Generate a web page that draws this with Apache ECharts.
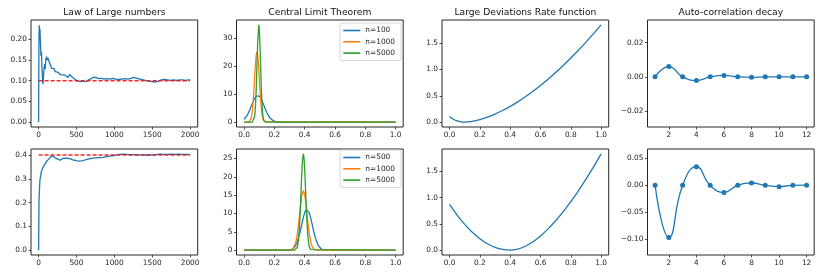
<!DOCTYPE html>
<html><head><meta charset="utf-8">
<script src="https://cdn.jsdelivr.net/npm/echarts@6/dist/echarts.min.js"></script>
<style>html,body{margin:0;padding:0;background:#fff}#c{width:830px;height:277px}</style>
</head><body><div id="c"></div>
<script>
// ---------------- DATA ----------------
const titles = ['Law of Large numbers', 'Central Limit Theorem', 'Large Deviations Rate function', 'Auto-correlation decay'];

// Law of large numbers: running mean [n, value]
const llnP1 = 0.1, llnP2 = 0.4, llnN = 2000;
const lln1 = [[0,0],[5,0.2],[9,0.234],[13,0.22],[18,0.225],[25,0.19],[32,0.16],[38,0.17],[45,0.13],[52,0.1],[58,0.092],[65,0.11],[72,0.13],[80,0.14],[88,0.128],[95,0.15],[105,0.158],[115,0.15],[125,0.155],[140,0.145],[155,0.14],[170,0.13],[185,0.128],[200,0.13],[220,0.122],[240,0.118],[260,0.12],[285,0.115],[310,0.118],[340,0.114],[365,0.112],[390,0.108],[410,0.115],[430,0.112],[455,0.107],[480,0.104],[505,0.1],[530,0.102],[560,0.098],[590,0.099],[620,0.098],[650,0.101],[680,0.104],[710,0.107],[740,0.109],[770,0.107],[800,0.105],[830,0.106],[860,0.104],[900,0.105],[940,0.104],[980,0.106],[1020,0.104],[1060,0.103],[1100,0.104],[1140,0.105],[1180,0.104],[1220,0.106],[1260,0.108],[1300,0.106],[1340,0.104],[1380,0.102],[1420,0.1],[1460,0.099],[1500,0.098],[1540,0.097],[1580,0.099],[1620,0.102],[1660,0.103],[1700,0.102],[1740,0.101],[1780,0.102],[1820,0.101],[1860,0.102],[1900,0.102],[1940,0.101],[1980,0.102],[2000,0.102]];
const lln2 = [[0,0],[3,0.1],[5,0.2],[10,0.24],[15,0.28],[20,0.3],[28,0.31],[35,0.33],[45,0.335],[55,0.345],[65,0.35],[80,0.36],[95,0.365],[110,0.375],[125,0.38],[140,0.385],[155,0.39],[170,0.396],[185,0.392],[200,0.393],[220,0.388],[240,0.385],[260,0.38],[280,0.378],[300,0.382],[320,0.386],[345,0.384],[370,0.387],[395,0.386],[420,0.384],[450,0.38],[480,0.378],[510,0.375],[540,0.374],[570,0.375],[600,0.378],[640,0.382],[680,0.385],[720,0.387],[760,0.388],[800,0.389],[850,0.39],[900,0.393],[950,0.396],[1000,0.398],[1040,0.402],[1080,0.403],[1120,0.404],[1160,0.403],[1200,0.402],[1250,0.402],[1300,0.401],[1350,0.401],[1400,0.4],[1450,0.4],[1500,0.401],[1550,0.402],[1600,0.404],[1650,0.403],[1700,0.403],[1750,0.404],[1800,0.403],[1850,0.404],[1900,0.403],[1950,0.403],[2000,0.402]];

// Central limit theorem densities [x, density]
const cltNames1 = ['n=100', 'n=1000', 'n=5000'];
const cltNames2 = ['n=500', 'n=1000', 'n=5000'];
const clt1a = [[0,0.96],[0.01,1.55],[0.02,2.37],[0.03,3.43],[0.04,4.68],[0.05,6.05],[0.06,7.37],[0.07,8.5],[0.08,9.25],[0.09,9.5],[0.1,9.25],[0.11,8.5],[0.12,7.37],[0.13,6.05],[0.14,4.68],[0.15,3.43],[0.16,2.37],[0.17,1.55],[0.18,0.96],[0.19,0.57],[0.2,0.32],[0.21,0.17],[0.22,0.08],[0.23,0.03],[0.25,0],[1,0]];
const clt1b = [[0,0],[0.03,0],[0.035,0.2],[0.04,0.5],[0.045,1.1],[0.05,2.3],[0.055,4.3],[0.06,7.4],[0.065,11.5],[0.07,16.1],[0.075,20.6],[0.08,23.8],[0.085,25],[0.09,23.8],[0.095,20.6],[0.1,16.1],[0.105,11.5],[0.11,7.4],[0.115,4.3],[0.12,2.3],[0.125,1.1],[0.13,0.5],[0.135,0.2],[0.145,0],[1,0]];
const clt1c = [[0,0],[0.055,0],[0.06,0.2],[0.065,0.7],[0.07,2.2],[0.075,5.5],[0.08,11.6],[0.085,20.1],[0.09,28.8],[0.097,34.6],[0.1,33.4],[0.105,27.2],[0.11,18.3],[0.115,10.2],[0.12,4.7],[0.125,1.8],[0.13,0.6],[0.135,0.15],[0.145,0],[1,0]];
const clt2a = [[0,0],[0.28,0],[0.3,0.06],[0.32,0.32],[0.34,1.22],[0.36,3.4],[0.37,5.04],[0.38,6.9],[0.39,8.75],[0.4,10.25],[0.41,11.09],[0.415,11.2],[0.42,11.09],[0.43,10.25],[0.44,8.75],[0.45,6.9],[0.46,5.04],[0.47,3.4],[0.49,1.22],[0.51,0.32],[0.53,0.06],[0.55,0],[1,0]];
const clt2b = [[0,0],[0.3,0],[0.32,0.24],[0.33,0.73],[0.34,1.86],[0.35,4.0],[0.36,7.3],[0.37,11.3],[0.38,14.7],[0.391,16.3],[0.4,15.2],[0.41,12.1],[0.42,8.1],[0.43,4.6],[0.44,2.2],[0.45,0.9],[0.46,0.3],[0.48,0],[1,0]];
const clt2c = [[0,0],[0.33,0],[0.34,0.09],[0.35,0.69],[0.355,1.6],[0.36,3.3],[0.365,6.1],[0.37,10.1],[0.375,15.1],[0.38,20.2],[0.385,24.3],[0.391,26.3],[0.395,25.4],[0.4,22.1],[0.405,17.2],[0.41,12.0],[0.415,7.6],[0.42,4.3],[0.425,2.2],[0.43,0.97],[0.44,0.15],[0.45,0],[1,0]];

// Large deviations rate functions [x, I(x)]
const ld1 = [[0,0.107],[0.025,0.055],[0.05,0.022],[0.075,0.005],[0.1,0],[0.15,0.015],[0.2,0.048],[0.25,0.094],[0.3,0.152],[0.35,0.22],[0.4,0.298],[0.45,0.385],[0.5,0.48],[0.55,0.584],[0.6,0.695],[0.65,0.814],[0.7,0.941],[0.75,1.075],[0.8,1.215],[0.85,1.363],[0.9,1.517],[0.95,1.677],[1,1.844]];
const ld2 = [[0,0.873],[0.05,0.668],[0.1,0.491],[0.15,0.341],[0.2,0.218],[0.25,0.123],[0.3,0.055],[0.35,0.014],[0.4,0],[0.45,0.02],[0.5,0.075],[0.55,0.16],[0.6,0.27],[0.65,0.405],[0.7,0.56],[0.75,0.735],[0.8,0.925],[0.85,1.13],[0.9,1.35],[0.95,1.585],[1,1.833]];

// Auto-correlation
const acLags = [1,2,3,4,5,6,7,8,9,10,11,12];
const ac1 = [0, 0.006, 0, -0.0021, 0, 0.0008, 0, -0.0003, 0, 0, 0, 0];
const ac2 = [0, -0.0965, 0, 0.0345, 0, -0.0132, 0, 0.0043, 0, -0.0025, 0, 0.0003];

// Tick values
const llnXTicks = [0, 500, 1000, 1500, 2000];
const lln1YTicks = [0, 0.05, 0.1, 0.15, 0.2];
const lln2YTicks = [0, 0.1, 0.2, 0.3, 0.4];
const unitXTicks = [0, 0.2, 0.4, 0.6, 0.8, 1.0];
const clt1YTicks = [0, 10, 20, 30];
const clt2YTicks = [0, 5, 10, 15, 20, 25];
const ldYTicks = [0, 0.5, 1.0, 1.5];
const acXTicks = [2, 4, 6, 8, 10, 12];
const ac1YTicks = [-0.02, 0, 0.02];
const ac2YTicks = [-0.1, -0.05, 0, 0.05];

// ---------------- LAYOUT / STYLE ----------------
const FONT = 'DejaVu Sans';
const C = ['#1f77b4', '#ff7f0e', '#2ca02c'];
const cols = [31, 236.5, 442, 647.5];
const W = 166.7;
const rowsL = [{top: 20, h: 107}, {top: 149, h: 106}];

function fmt(d) {
  return function (v) {
    let s = Number(v).toFixed(d);
    if (parseFloat(s) === 0) s = (0).toFixed(d);
    if (s[0] === '-') s = '\u2212' + s.slice(1);
    return s;
  };
}

const grids = [];
for (let r = 0; r < 2; r++) for (let c = 0; c < 4; c++) {
  grids.push({left: cols[c], top: rowsL[r].top, width: W, height: rowsL[r].h,
    show: true, borderColor: '#262626', borderWidth: 1, backgroundColor: 'transparent', containLabel: false});
}

function axis(kind, gi, min, max, ticks, dec) {
  return {
    type: 'value', gridIndex: gi, min: min, max: max,
    position: kind === 'x' ? 'bottom' : 'left',
    splitLine: {show: false},
    axisLine: {show: false, onZero: false},
    axisTick: {show: true, inside: false, length: 2.5, lineStyle: {color: '#262626', width: 0.8}, customValues: ticks},
    axisLabel: {show: true, customValues: ticks, formatter: fmt(dec), fontFamily: FONT, fontSize: 7.4, color: '#262626', margin: kind === 'x' ? 4.5 : 4}
  };
}

// axis specs: [xmin,xmax,xticks,xdec, ymin,ymax,yticks,ydec]
const specs = [
  [-100, 2100, llnXTicks, 0, -0.0118, 0.2468, lln1YTicks, 2],
  [-0.05, 1.05, unitXTicks, 1, -1.73, 36.33, clt1YTicks, 0],
  [-0.05, 1.05, unitXTicks, 1, -0.092, 1.936, ldYTicks, 1],
  [0.45, 12.55, acXTicks, 0, -0.0294, 0.0333, ac1YTicks, 2],
  [-100, 2100, llnXTicks, 0, -0.0203, 0.4253, lln2YTicks, 1],
  [-0.05, 1.05, unitXTicks, 1, -1.315, 27.6, clt2YTicks, 0],
  [-0.05, 1.05, unitXTicks, 1, -0.092, 1.925, ldYTicks, 1],
  [0.45, 12.55, acXTicks, 0, -0.129, 0.0672, ac2YTicks, 2]
];
const xAxes = specs.map((s, i) => axis('x', i, s[0], s[1], s[2], s[3]));
const yAxes = specs.map((s, i) => axis('y', i, s[4], s[5], s[6], s[7]));

function line(gi, name, data, color, extra) {
  return Object.assign({
    type: 'line', name: name, xAxisIndex: gi, yAxisIndex: gi, data: data,
    showSymbol: false, symbol: 'none', smooth: false, silent: true,
    lineStyle: {color: color, width: 1.3}, itemStyle: {color: color}, z: 3
  }, extra || {});
}
const redDash = {lineStyle: {color: 'rgba(240,20,20,0.9)', width: 1.5, type: [4, 2]}, z: 4};

const series = [
  line(0, 'lln1', lln1, C[0]),
  line(0, 'p1', [[0, llnP1], [llnN, llnP1]], 'red', redDash),
  line(4, 'lln2', lln2, C[0]),
  line(4, 'p2', [[0, llnP2], [llnN, llnP2]], 'red', redDash),
  line(1, cltNames1[0], clt1a, C[0]),
  line(1, cltNames1[1], clt1b, C[1]),
  line(1, cltNames1[2], clt1c, C[2]),
  line(5, cltNames2[0], clt2a, C[0]),
  line(5, cltNames2[1], clt2b, C[1]),
  line(5, cltNames2[2], clt2c, C[2]),
  line(2, 'ld1', ld1, C[0], {smooth: 0.3}),
  line(6, 'ld2', ld2, C[0], {smooth: 0.3}),
  line(3, 'ac1', acLags.map((l, i) => [l, ac1[i]]), C[0], {smooth: 0.5, showSymbol: true, symbol: 'circle', symbolSize: 5}),
  line(7, 'ac2', acLags.map((l, i) => [l, ac2[i]]), C[0], {smooth: 0.5, showSymbol: true, symbol: 'circle', symbolSize: 5})
];

const title = titles.map((t, c) => ({
  text: t, left: cols[c] + W / 2, top: 7, textAlign: 'center', padding: 0,
  textStyle: {fontFamily: FONT, fontSize: 9.2, fontWeight: 'normal', color: '#111', lineHeight: 11}
}));

function legend(names, top) {
  return {
    data: names, orient: 'vertical', left: 340, top: top,
    padding: [3, 6, 3, 3.3], itemGap: 2.3, itemWidth: 17, itemHeight: 1.6, icon: 'rect',
    borderColor: '#cccccc', borderWidth: 0.8, borderRadius: 2, backgroundColor: 'rgba(255,255,255,0.85)',
    textStyle: {fontFamily: FONT, fontSize: 7.4, color: '#262626', lineHeight: 9},
    selectedMode: false
  };
}

const option = {
  animation: false,
  backgroundColor: '#ffffff',
  title: title,
  legend: [legend(cltNames1, 23), legend(cltNames2, 150)],
  grid: grids,
  xAxis: xAxes,
  yAxis: yAxes,
  series: series
};
const chart = echarts.init(document.getElementById('c'), null, {renderer: 'canvas'});
chart.setOption(option);
</script></body></html>
